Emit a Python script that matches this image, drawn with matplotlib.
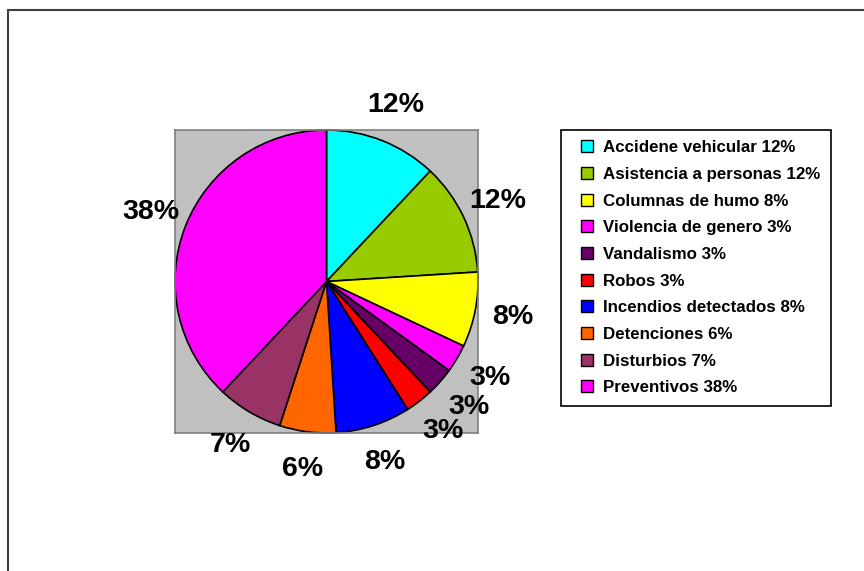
import matplotlib.pyplot as plt
from matplotlib.patches import Rectangle
from matplotlib.lines import Line2D

plt.rcParams['font.family'] = ['Liberation Sans', 'DejaVu Sans']

# datos del grafico
categorias = ['Accidene vehicular 12%', 'Asistencia a personas 12%', 'Columnas de humo 8%',
              'Violencia de genero 3%', 'Vandalismo 3%', 'Robos 3%',
              'Incendios detectados 8%', 'Detenciones 6%', 'Disturbios 7%', 'Preventivos 38%']
porcentajes = [12, 12, 8, 3, 3, 3, 8, 6, 7, 38]
colores = ['#00FFFF', '#99CC00', '#FFFF00', '#FF00FF', '#660066', '#FF0000',
           '#0000FF', '#FF6600', '#993366', '#FF00FF']

W, H = 864, 571
fig = plt.figure(figsize=(W / 100, H / 100), dpi=100)

# borde exterior (solo visible arriba e izquierda)
fig.patches.append(Rectangle((8 / W, -0.2), 1.5, 1.2 - 10 / H, transform=fig.transFigure,
                             fill=False, edgecolor='#404040', linewidth=1.5))

ax = fig.add_axes([175 / W, (H - 433) / H, 303 / W, 303 / H])

wedges, texts, autotexts = ax.pie(
    porcentajes, colors=colores, startangle=90, counterclock=False, radius=1,
    autopct=lambda p: f'{p:.0f}%', pctdistance=1.25,
    wedgeprops=dict(edgecolor='black', linewidth=1.2),
    textprops=dict(fontsize=20.5, fontweight='bold', color='black'))
for t in autotexts:
    t.set_clip_on(False)
ax.set_xlim(-1, 1)
ax.set_ylim(-1, 1)
ax.set_aspect('equal')
ax.set_frame_on(True)
ax.set_facecolor('#C0C0C0')
for s in ax.spines.values():
    s.set_color('#808080')
    s.set_linewidth(1.2)
ax.set_xticks([])
ax.set_yticks([])

# leyenda con cuadraditos
handles = [Line2D([], [], linestyle='none', marker='s', markersize=8,
                  markerfacecolor=c, markeredgecolor='black', markeredgewidth=1)
           for c in colores]
leg = fig.legend(handles, categorias, loc='upper left',
                 bbox_to_anchor=(561 / W, 1 - 130 / H), borderaxespad=0,
                 prop=dict(size=12.2, weight='bold'), frameon=True, fancybox=False,
                 edgecolor='black', framealpha=1, handlelength=1.9,
                 handletextpad=0.0, labelspacing=0.69, borderpad=0.6)
leg.get_frame().set_linewidth(1.2)

fig.savefig('out.png', dpi=100)
